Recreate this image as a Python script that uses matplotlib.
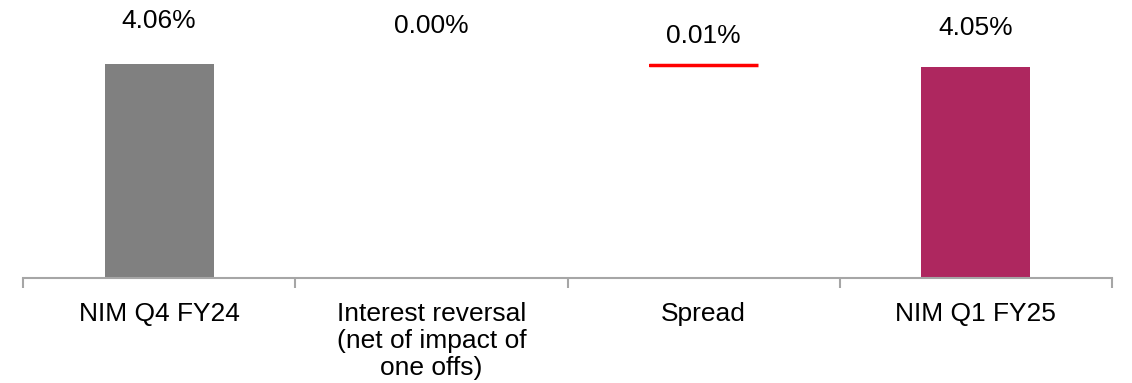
import matplotlib
matplotlib.use('Agg')
import matplotlib.pyplot as plt
import numpy as np

# 数据
categories = ['NIM Q4 FY24', 'Interest reversal\n(net of impact of\none offs)', 'Spread', 'NIM Q1 FY25']
start_nim = 4.06
changes = [0.00, -0.01]
end_nim = 4.05

# 样式
plt.rcParams['font.family'] = ['Liberation Sans', 'DejaVu Sans']
grey = '#808080'
magenta = '#AE275F'
red = '#FF0000'
axis_col = '#A6A6A6'
label_pad_px = [43, 38, 28, 39]

fig = plt.figure(figsize=(11.32, 3.83), dpi=100)
ax = fig.add_axes([23 / 1132, 105 / 383, (1112 - 23) / 1132, 278 / 383])

x = np.arange(len(categories))
width = 0.4

# 瀑布图：起点、变化、终点
bottoms = [0]
heights = [start_nim]
colors = [grey]
level = start_nim
for c in changes:
    bottoms.append(min(level, level + c))
    heights.append(abs(c))
    colors.append(red if c < 0 else grey)
    level += c
bottoms.append(0)
heights.append(end_nim)
colors.append(magenta)

ax.bar(x, heights, width, bottom=bottoms, color=colors, linewidth=0)

# 红色细条（变化量太小，画成一条线）
for i, c in enumerate(changes, start=1):
    if c < 0:
        ax.plot([x[i] - width / 2, x[i] + width / 2], [bottoms[i] + heights[i] - 0.005] * 2,
                color=red, linewidth=2.5, solid_capstyle='butt')

labels = [start_nim] + changes + [end_nim]
tops = [b + h for b, h in zip(bottoms, heights)]
tops[1] = start_nim
tops[2] = start_nim
for i, (v, t) in enumerate(zip(labels, tops)):
    ax.annotate(f'{abs(v):.2f}%', (x[i], t), xytext=(0, label_pad_px[i] * 0.72),
                textcoords='offset points', ha='center', va='center', fontsize=19)

ax.set_xlim(-0.5, len(categories) - 0.5)
ax.set_ylim(4.06 - 214 / 270, 4.06 + 64 / 270)

for s in ['top', 'right', 'left']:
    ax.spines[s].set_visible(False)
ax.spines['bottom'].set_color(axis_col)
ax.spines['bottom'].set_linewidth(1.5)
ax.set_yticks([])

ax.set_xticks(x)
ax.set_xticklabels(categories, fontsize=19, linespacing=1.18, va='top')
ax.tick_params(axis='x', which='major', length=0, pad=17)
ax.set_xticks(np.arange(-0.5, len(categories)), minor=True)
ax.tick_params(axis='x', which='minor', length=7, width=1.5, color=axis_col, direction='out')

plt.savefig('out.png', dpi=100)
plt.close()
